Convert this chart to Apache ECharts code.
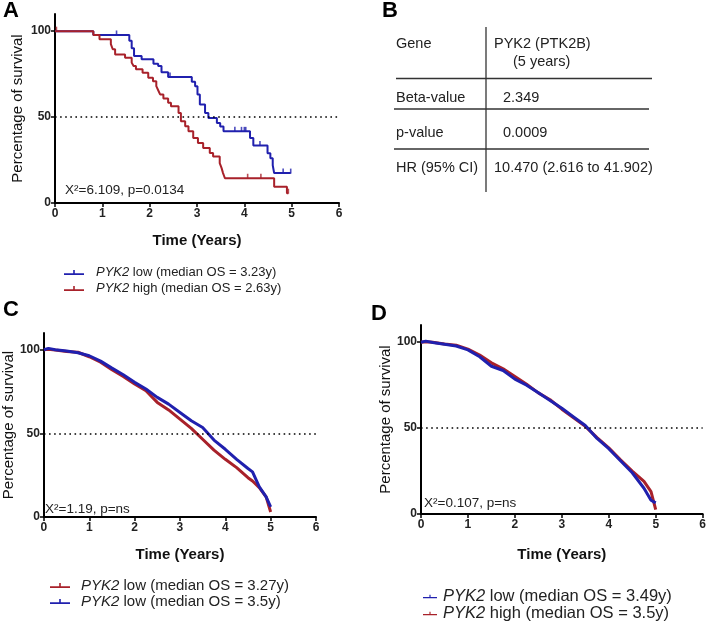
<!DOCTYPE html>
<html>
<head>
<meta charset="utf-8">
<script src="https://cdn.jsdelivr.net/npm/echarts@6/dist/echarts.min.js"></script>
<style>
  html, body { margin: 0; padding: 0; background: #fff; }
  #chart { width: 709px; height: 628px; }
</style>
</head>
<body>
<div id="chart"></div>
<script>
// panel A - Kaplan-Meier steps (time in years, survival %)
const aLowTime = [0, 0.81, 1.57, 1.62, 1.67, 1.83, 2.08, 2.18, 2.25, 2.39, 2.89, 2.96, 3.01, 3.06, 3.17, 3.24, 3.42, 3.49, 3.56, 4.12, 4.19, 4.49, 4.55, 4.60, 4.63, 4.98];
const aLowSurv = [100, 97.8, 94.5, 90, 85.6, 83.6, 81.1, 79.7, 76.1, 73.4, 70.5, 68, 63.2, 57.3, 52.4, 49.5, 46.6, 44.5, 41.7, 37.8, 33.5, 29, 26.1, 22, 17.4, 17.4];
const aLowCensor = [[1.30, 97.8], [2.43, 73.4], [3.80, 41.7], [3.94, 41.7], [4.00, 41.7], [4.03, 41.7], [4.33, 33.5], [4.82, 17.4], [4.98, 17.4]];

const aHighTime = [0, 0.81, 0.94, 1.18, 1.22, 1.27, 1.48, 1.62, 1.66, 1.71, 1.85, 1.97, 2.07, 2.14, 2.18, 2.22, 2.29, 2.39, 2.45, 2.61, 2.66, 2.75, 2.82, 2.92, 3.02, 3.13, 3.27, 3.34, 3.48, 3.52, 3.55, 3.59, 4.63, 4.90, 4.93];
const aHighSurv = [100, 97.8, 95.3, 92.5, 89.5, 86.5, 84.6, 81.7, 79.7, 77.8, 75.8, 72.9, 70.9, 68, 65.6, 63.2, 60.8, 58.3, 56.3, 52.4, 47.6, 44.6, 41.7, 37.8, 34.9, 32, 29.1, 27.1, 23.2, 20.3, 17.4, 14.4, 9.5, 5.7, 5.7];
const aHighCensor = [[0.03, 100], [4.07, 14.4], [4.35, 14.4], [4.93, 5.7]];

// panels C and D - read at fixed times
const cTime = [0, 0.1, 0.25, 0.5, 0.75, 1.0, 1.25, 1.5, 1.75, 2.0, 2.25, 2.5, 2.75, 3.0, 3.25, 3.5, 3.75, 4.0, 4.25, 4.5, 4.6, 4.75, 4.9, 5.0];
const cRedSurv = [100, 100.3, 99.8, 99, 98.5, 95.8, 92.5, 88, 84, 79.5, 75.5, 68.5, 64, 58.5, 53, 46.5, 40, 34.5, 29.5, 23.5, 21.5, 17.5, 12, 3];
const cBlueSurv = [100, 100.8, 100, 99.2, 98.2, 96.4, 93.2, 89, 85, 80.5, 76.5, 71.5, 67.5, 62.5, 57.5, 53.5, 46, 40.5, 34.5, 29, 27, 18, 12, 6];

const dTime = [0, 0.1, 0.25, 0.5, 0.75, 1.0, 1.25, 1.5, 1.75, 2.0, 2.25, 2.5, 2.75, 3.0, 3.25, 3.5, 3.75, 4.0, 4.25, 4.5, 4.75, 4.9, 5.0];
const dBlueSurv = [100, 100.6, 99.8, 98.8, 97.8, 95.5, 91.5, 86, 83.5, 78.5, 75, 70.5, 66, 61.5, 56.5, 51.5, 44, 38, 31, 24, 15, 8, 6.5];
const dRedSurv = [100, 100.2, 100, 99, 98.2, 96, 92.5, 88, 84.5, 80, 75.5, 70.5, 66.5, 61, 56, 51, 44.5, 38.5, 31.5, 25, 19, 13, 2.5];

const xTicks = [0, 1, 2, 3, 4, 5, 6];
const yTicks = [0, 50, 100];

const legendA = ['PYK2 low (median OS = 3.23y)', 'PYK2 high (median OS = 2.63y)'];
const legendC = ['PYK2 low (median OS = 3.27y)', 'PYK2 low (median OS = 3.5y)'];
const legendD = ['PYK2 low (median OS = 3.49y)', 'PYK2 high (median OS = 3.5y)'];

const BLUE = '#2020ae';
const RED = '#a8212a';
const FONT = 'Liberation Sans, Arial, sans-serif';

const zip = (xs, ys) => xs.map((x, i) => [x, ys[i]]);

const chart = echarts.init(document.getElementById('chart'));

const xAxisBase = (gridIndex, nameGap) => ({
  gridIndex,
  type: 'value',
  min: 0,
  max: 6,
  interval: 1,
  name: 'Time (Years)',
  nameLocation: 'middle',
  nameGap,
  nameTextStyle: { fontFamily: FONT, fontWeight: 'bold', fontSize: 15, color: '#111' },
  axisLine: { lineStyle: { color: '#000', width: 2 } },
  axisTick: { length: 4, customValues: xTicks, lineStyle: { color: '#000', width: 1.5 } },
  axisLabel: { customValues: xTicks, fontFamily: FONT, fontWeight: 'bold', fontSize: 12, color: '#222', margin: 5 },
  splitLine: { show: false },
});

const yAxisBase = (gridIndex, nameGap) => ({
  gridIndex,
  type: 'value',
  min: 0,
  max: 110,
  name: 'Percentage of survival',
  nameLocation: 'middle',
  nameGap,
  nameTextStyle: { fontFamily: FONT, fontSize: 15, color: '#111' },
  axisLine: { show: true, lineStyle: { color: '#000', width: 2 } },
  axisTick: { show: true, length: 4, customValues: yTicks, lineStyle: { color: '#000', width: 1.5 } },
  axisLabel: { customValues: yTicks, fontFamily: FONT, fontWeight: 'bold', fontSize: 12, color: '#222', margin: 4 },
  splitLine: { show: false },
});

const dotted = {
  silent: true,
  symbol: 'none',
  label: { show: false },
  lineStyle: { type: [1.6, 3.5], color: '#000', width: 1.7 },
  data: [{ yAxis: 50 }],
};

const kmLine = (name, data, color, idx, width, step, extra) => Object.assign({
  name,
  type: 'line',
  xAxisIndex: idx,
  yAxisIndex: idx,
  data,
  step: step ? 'end' : false,
  showSymbol: false,
  symbol: 'none',
  lineStyle: { color, width },
  itemStyle: { color },
}, extra || {});

const censor = (name, data, color) => ({
  name,
  type: 'scatter',
  xAxisIndex: 0,
  yAxisIndex: 0,
  data,
  symbol: 'rect',
  symbolSize: [1.6, 5],
  symbolOffset: [0, -2],
  itemStyle: { color },
  silent: true,
});

const TICK_ICON = 'path://M0,6.2h20v1.8h-20z M9.2,3h1.6v4h-1.6z';

const legend = (data, left, top, fontSize, itemGap, padLeft, itemWidth) => ({
  data,
  left,
  top,
  padding: 0,
  orient: 'vertical',
  itemGap,
  itemWidth,
  itemHeight: 10,
  icon: TICK_ICON,
  selectedMode: false,
  formatter: (n) => '{i|PYK2}{t|' + n.slice(4) + '}',
  textStyle: {
    fontFamily: FONT,
    fontSize,
    color: '#222',
    padding: [0, 0, 0, padLeft],
    rich: {
      i: { fontStyle: 'italic', fontFamily: FONT, fontSize, color: '#222' },
      t: { fontFamily: FONT, fontSize, color: '#222' },
    },
  },
});

const txt = (text, x, y, size, weight, extra) => ({
  type: 'text',
  silent: true,
  style: Object.assign({
    text, x, y,
    fontFamily: FONT,
    fontSize: size,
    fontWeight: weight || 'normal',
    fill: '#222',
    verticalAlign: 'middle',
  }, extra || {}),
});

const hline = (x1, x2, y) => ({
  type: 'line', silent: true,
  shape: { x1, y1: y, x2, y2: y },
  style: { stroke: '#333', lineWidth: 1.3 },
});

chart.setOption({
  animation: false,
  backgroundColor: '#fff',
  grid: [
    { left: 55, top: 14, width: 284, height: 189 },
    { left: 41, top: 333, width: 275, height: 184 },
    { left: 421, top: 325, width: 283, height: 189 },
  ],
  xAxis: [xAxisBase(0, 30), xAxisBase(1, 30), xAxisBase(2, 33)],
  yAxis: [yAxisBase(0, 30), yAxisBase(1, 27), yAxisBase(2, 27)],
  legend: [
    legend(legendA, 64, 266, 13, 3, 7, 20),
    legend(legendC, 50, 578, 15, 1, 6, 20),
    legend(legendD, 423, 588, 16.5, 0, 1, 14),
  ],
  series: [
    kmLine(legendA[0], zip(aLowTime, aLowSurv), BLUE, 0, 2, true, { markLine: dotted }),
    kmLine(legendA[1], zip(aHighTime, aHighSurv), RED, 0, 2, true),
    censor(legendA[0], aLowCensor, BLUE),
    censor(legendA[1], aHighCensor, RED),
    kmLine(legendC[0], zip(cTime, cRedSurv), RED, 1, 3, false, { markLine: dotted }),
    kmLine(legendC[1], zip(cTime, cBlueSurv), BLUE, 1, 3, false),
    kmLine(legendD[1], zip(dTime, dRedSurv), RED, 2, 3, false, { markLine: dotted }),
    kmLine(legendD[0], zip(dTime, dBlueSurv), BLUE, 2, 3, false),
  ],
  graphic: [
    txt('A', 3, 11, 22, 'bold', { fill: '#000' }),
    txt('B', 382, 11, 22, 'bold', { fill: '#000' }),
    txt('C', 3, 310, 22, 'bold', { fill: '#000' }),
    txt('D', 371, 314, 22, 'bold', { fill: '#000' }),
    txt('X\u00b2=6.109, p=0.0134', 65, 190, 13.5),
    txt('X\u00b2=1.19, p=ns', 45, 509, 13.5),
    txt('X\u00b2=0.107, p=ns', 424, 503, 13.5),
    // table B
    { type: 'line', silent: true, shape: { x1: 486, y1: 27, x2: 486, y2: 192 }, style: { stroke: '#333', lineWidth: 1.3 } },
    hline(396, 652, 78.5),
    hline(394, 649, 109),
    hline(394, 649, 149),
    txt('Gene', 396, 44, 14.5),
    txt('PYK2 (PTK2B)', 494, 44, 14.5),
    txt('(5 years)', 513, 62, 14.5),
    txt('Beta-value', 396, 98, 14.5),
    txt('2.349', 503, 98, 14.5),
    txt('p-value', 396, 133, 14.5),
    txt('0.0009', 503, 133, 14.5),
    txt('HR (95% CI)', 396, 168, 14.5),
    txt('10.470 (2.616 to 41.902)', 494, 168, 14.5),
  ],
});
</script>
</body>
</html>
